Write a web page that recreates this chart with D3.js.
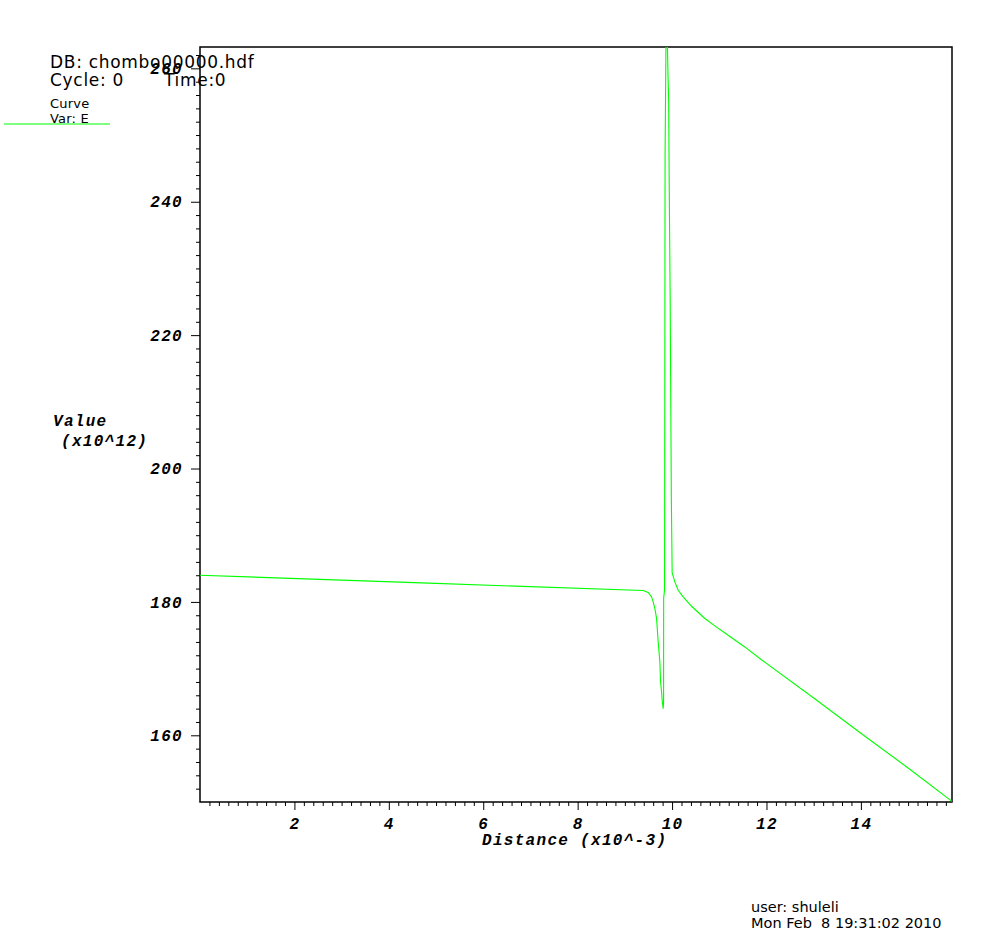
<!DOCTYPE html>
<html><head><meta charset="utf-8">
<script src="https://cdn.jsdelivr.net/npm/d3@7"></script>
<style>body{margin:0;background:#fff}svg{display:block}</style>
</head><body>
<svg id="c" width="1003" height="944"></svg>
<script>
// Data: Distance (x10^-3) vs Value (x10^12), variable E
const distance = [0, 4.7, 9.388, 9.494, 9.566, 9.600, 9.636, 9.672, 9.706, 9.742, 9.756, 9.778, 9.790, 9.812, 9.820, 9.822, 9.841, 9.852, 9.870, 9.890, 9.915, 9.928, 9.940, 9.960, 9.985, 10.002, 10.059, 10.129, 10.235, 10.413, 10.695, 10.906, 11.188, 11.54, 11.88, 13.0, 14.0, 15.0, 15.93];
const valueE   = [184.0, 182.85, 181.71, 181.41, 180.75, 180.0, 179.0, 177.5, 174.0, 171.0, 168.0, 166.5, 165.25, 164.0, 165.0, 180.6, 181.8, 246.7, 263.2, 267.3, 258.6, 255.3, 242.1, 225.3, 195.3, 184.35, 183.0, 181.75, 180.75, 179.35, 177.51, 176.4, 175.0, 173.25, 171.4, 165.6, 160.3, 155.1, 150.1];
const xMajorTicks = [2, 4, 6, 8, 10, 12, 14];
const yMajorTicks = [160, 180, 200, 220, 240, 260];
const xDomain = [0, 15.93];
const yDomain = [150, 263.2];

const svg = d3.select("#c");
const L = 200, R = 952, T = 47, B = 802;
const x = d3.scaleLinear().domain(xDomain).range([L, R]);
const y = d3.scaleLinear().domain(yDomain).range([B, T]);

const xMinor = d3.range(0.2, xDomain[1], 0.2).filter(v => !xMajorTicks.some(m => Math.abs(m - v) < 1e-6));
const yMinor = d3.range(152, yDomain[1], 2).filter(v => !yMajorTicks.some(m => Math.abs(m - v) < 1e-6));

const tickFont = "'Liberation Mono', 'Courier New', monospace";
const monoAttrs = s => s.attr("font-family", tickFont).attr("font-size", 16).attr("font-weight", "bold")
  .attr("font-style", "italic").attr("letter-spacing", 1.3).attr("fill", "#000");

// frame
svg.append("rect").attr("x", L).attr("y", T).attr("width", R - L).attr("height", B - T)
  .attr("fill", "none").attr("stroke", "#000").attr("stroke-width", 1.5);

// x axis
const xAxisMinor = d3.axisBottom(x).tickValues(xMinor).tickSize(4).tickFormat("");
const xAxisMajor = d3.axisBottom(x).tickValues(xMajorTicks).tickSize(8).tickPadding(8).tickFormat(d3.format("d"));
[xAxisMinor, xAxisMajor].forEach(ax => {
  const g = svg.append("g").attr("transform", `translate(0,${B})`).call(ax);
  g.select(".domain").remove();
  g.selectAll("line").attr("stroke", "#000");
  g.selectAll("text").call(monoAttrs);
});
// y axis
const yAxisMinor = d3.axisLeft(y).tickValues(yMinor).tickSize(4).tickFormat("");
const yAxisMajor = d3.axisLeft(y).tickValues(yMajorTicks).tickSize(9).tickPadding(8).tickFormat(d3.format("d"));
[yAxisMinor, yAxisMajor].forEach(ax => {
  const g = svg.append("g").attr("transform", `translate(${L},0)`).call(ax);
  g.select(".domain").remove();
  g.selectAll("line").attr("stroke", "#000");
  g.selectAll("text").call(monoAttrs);
});

// axis titles
svg.append("text").attr("x", 482).attr("y", 845).text("Distance (x10^-3)").call(monoAttrs);
svg.append("text").attr("x", 53).attr("y", 426).text("Value").call(monoAttrs);
svg.append("text").attr("x", 61).attr("y", 446).text("(x10^12)").call(monoAttrs);

// curve
svg.append("clipPath").attr("id", "clip").append("rect")
  .attr("x", L).attr("y", T).attr("width", R - L).attr("height", B - T);
const pts = distance.map((d, i) => [d, valueE[i]]);
svg.append("path").datum(pts).attr("clip-path", "url(#clip)")
  .attr("d", d3.line().x(d => x(d[0])).y(d => y(d[1])))
  .attr("fill", "none").attr("stroke", "#00ff00").attr("stroke-width", 1.1);

// header texts
const sans = "'DejaVu Sans', Verdana, sans-serif";
const hdr = (tx, xx, yy, fs, ls) => svg.append("text").attr("x", xx).attr("y", yy)
  .attr("font-family", sans).attr("font-size", fs).attr("letter-spacing", ls).attr("fill", "#000").text(tx);
hdr("DB: chombo00000.hdf", 50, 68, 17, 0.7);
hdr("Cycle: 0", 50, 86, 17, 0.7);
hdr("Time:0", 164, 86, 17, 0.7);
hdr("Curve", 50, 108, 13, 0.2);
hdr("Var: E", 50, 123, 13, 0.2);
svg.append("line").attr("x1", 4).attr("x2", 110).attr("y1", 124).attr("y2", 124)
  .attr("stroke", "#00ff00").attr("stroke-width", 1.2);

// footer
hdr("user: shuleli", 751, 912, 14.5, 0);
hdr("Mon Feb  8 19:31:02 2010", 751, 928, 14.5, 0).attr("xml:space", "preserve").style("white-space", "pre");
</script>
</body></html>
